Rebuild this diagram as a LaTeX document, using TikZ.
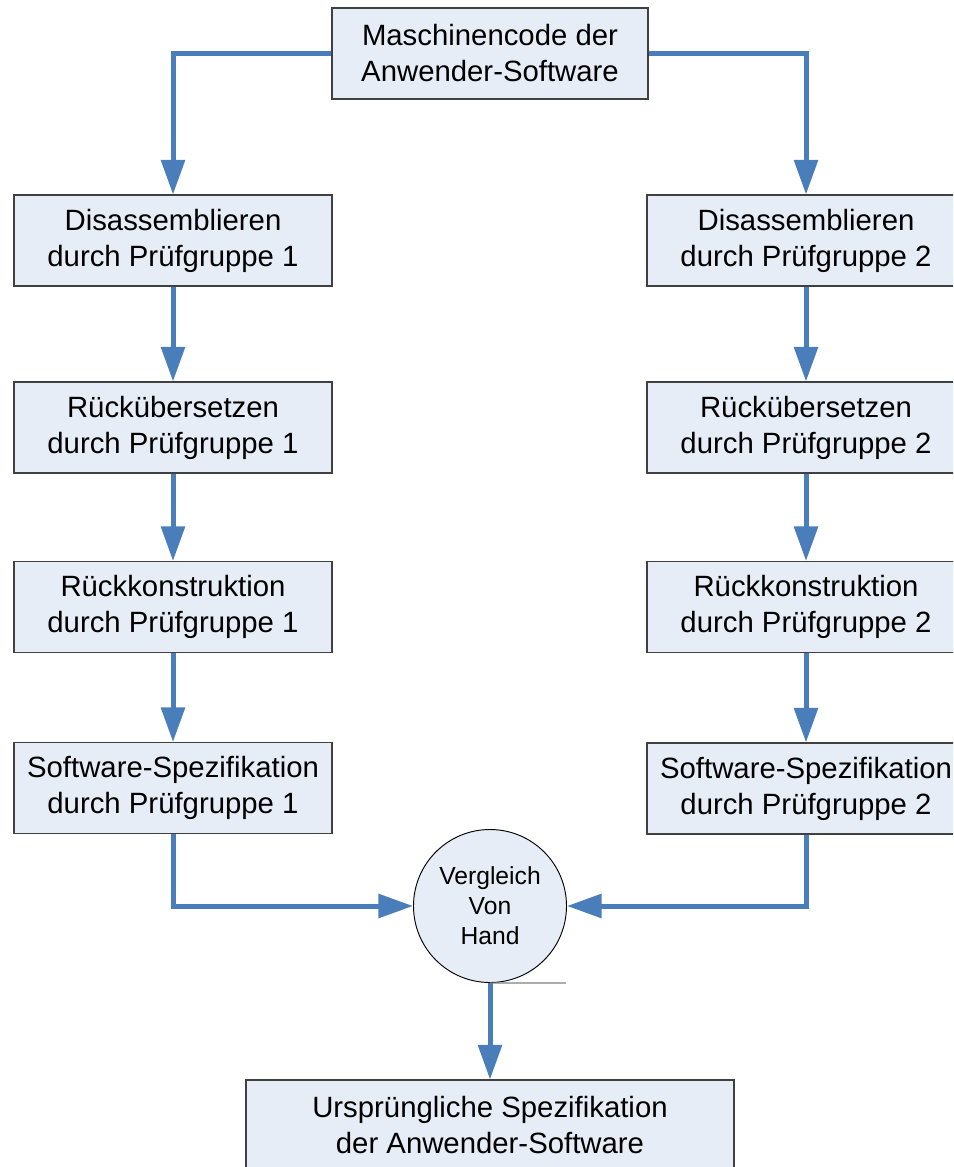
\documentclass[tikz,border=0pt]{standalone}
\usepackage{fontspec}
\setmainfont{Liberation Sans}
\usetikzlibrary{arrows.meta}
\definecolor{flowblue}{RGB}{74,126,187}
\definecolor{boxfill}{RGB}{231,237,247}
\definecolor{boxline}{RGB}{64,64,64}
\begin{document}
\begin{tikzpicture}[x=0.75pt,y=-0.75pt,
  stepbox/.style={draw=boxline, line width=0.8pt, fill=boxfill, rectangle,
    minimum width=238.5pt, minimum height=68.25pt, inner sep=0pt, align=center,
    font=\fontsize{22}{27}\selectfont},
  cmpnode/.style={draw=black, line width=0.7pt, fill=boxfill, circle,
    minimum size=114.75pt, inner sep=0pt, align=center,
    font=\fontsize{18.5}{22.5}\selectfont},
  flow/.style={draw=flowblue, line width=3.75pt,
    -{Triangle[width=17.5pt,length=26pt]}, flowblue}]
\useasboundingbox (0,0) rectangle (953,1167);
\clip (0,0) rectangle (953,1167);

\node[stepbox, minimum width=237pt] (top) at (490,53.5) {Maschinencode der\\Anwender-Software};

\node[stepbox] (d1) at (173,240.5) {Disassemblieren\\durch Prüfgruppe 1};
\node[stepbox] (r1) at (173,427.5) {Rückübersetzen\\durch Prüfgruppe 1};
\node[stepbox] (k1) at (173,607) {Rückkonstruktion\\durch Prüfgruppe 1};
\node[stepbox] (s1) at (173,788) {Software-Spezifikation\\durch Prüfgruppe 1};

\node[stepbox] (d2) at (806,240.5) {Disassemblieren\\durch Prüfgruppe 2};
\node[stepbox] (r2) at (806,427.5) {Rückübersetzen\\durch Prüfgruppe 2};
\node[stepbox] (k2) at (806,607) {Rückkonstruktion\\durch Prüfgruppe 2};
\node[stepbox] (s2) at (806,788.5) {Software-Spezifikation\\durch Prüfgruppe 2};

\node[cmpnode] (cmp) at (490,906) {Vergleich\\Von\\Hand};

\node[stepbox, minimum width=366pt] (orig) at (490,1125.5) {Ursprüngliche Spezifikation\\der Anwender-Software};

\coordinate (tick) at (566,983);

\draw[flow] (top.west) -| (d1.north);
\draw[flow] (top.east) -| (d2.north);
\draw[flow] (d1.south) -- (r1.north);
\draw[flow] (r1.south) -- (k1.north);
\draw[flow] (k1.south) -- (s1.north);
\draw[flow] (d2.south) -- (r2.north);
\draw[flow] (r2.south) -- (k2.north);
\draw[flow] (k2.south) -- (s2.north);
\draw[flow] (s1.south) |- (cmp.west);
\draw[flow] (s2.south) |- (cmp.east);
\draw[flow] (cmp.south) -- (orig.north);
\draw[gray, line width=0.8pt] (cmp.south) -- (tick);
\end{tikzpicture}
\end{document}
